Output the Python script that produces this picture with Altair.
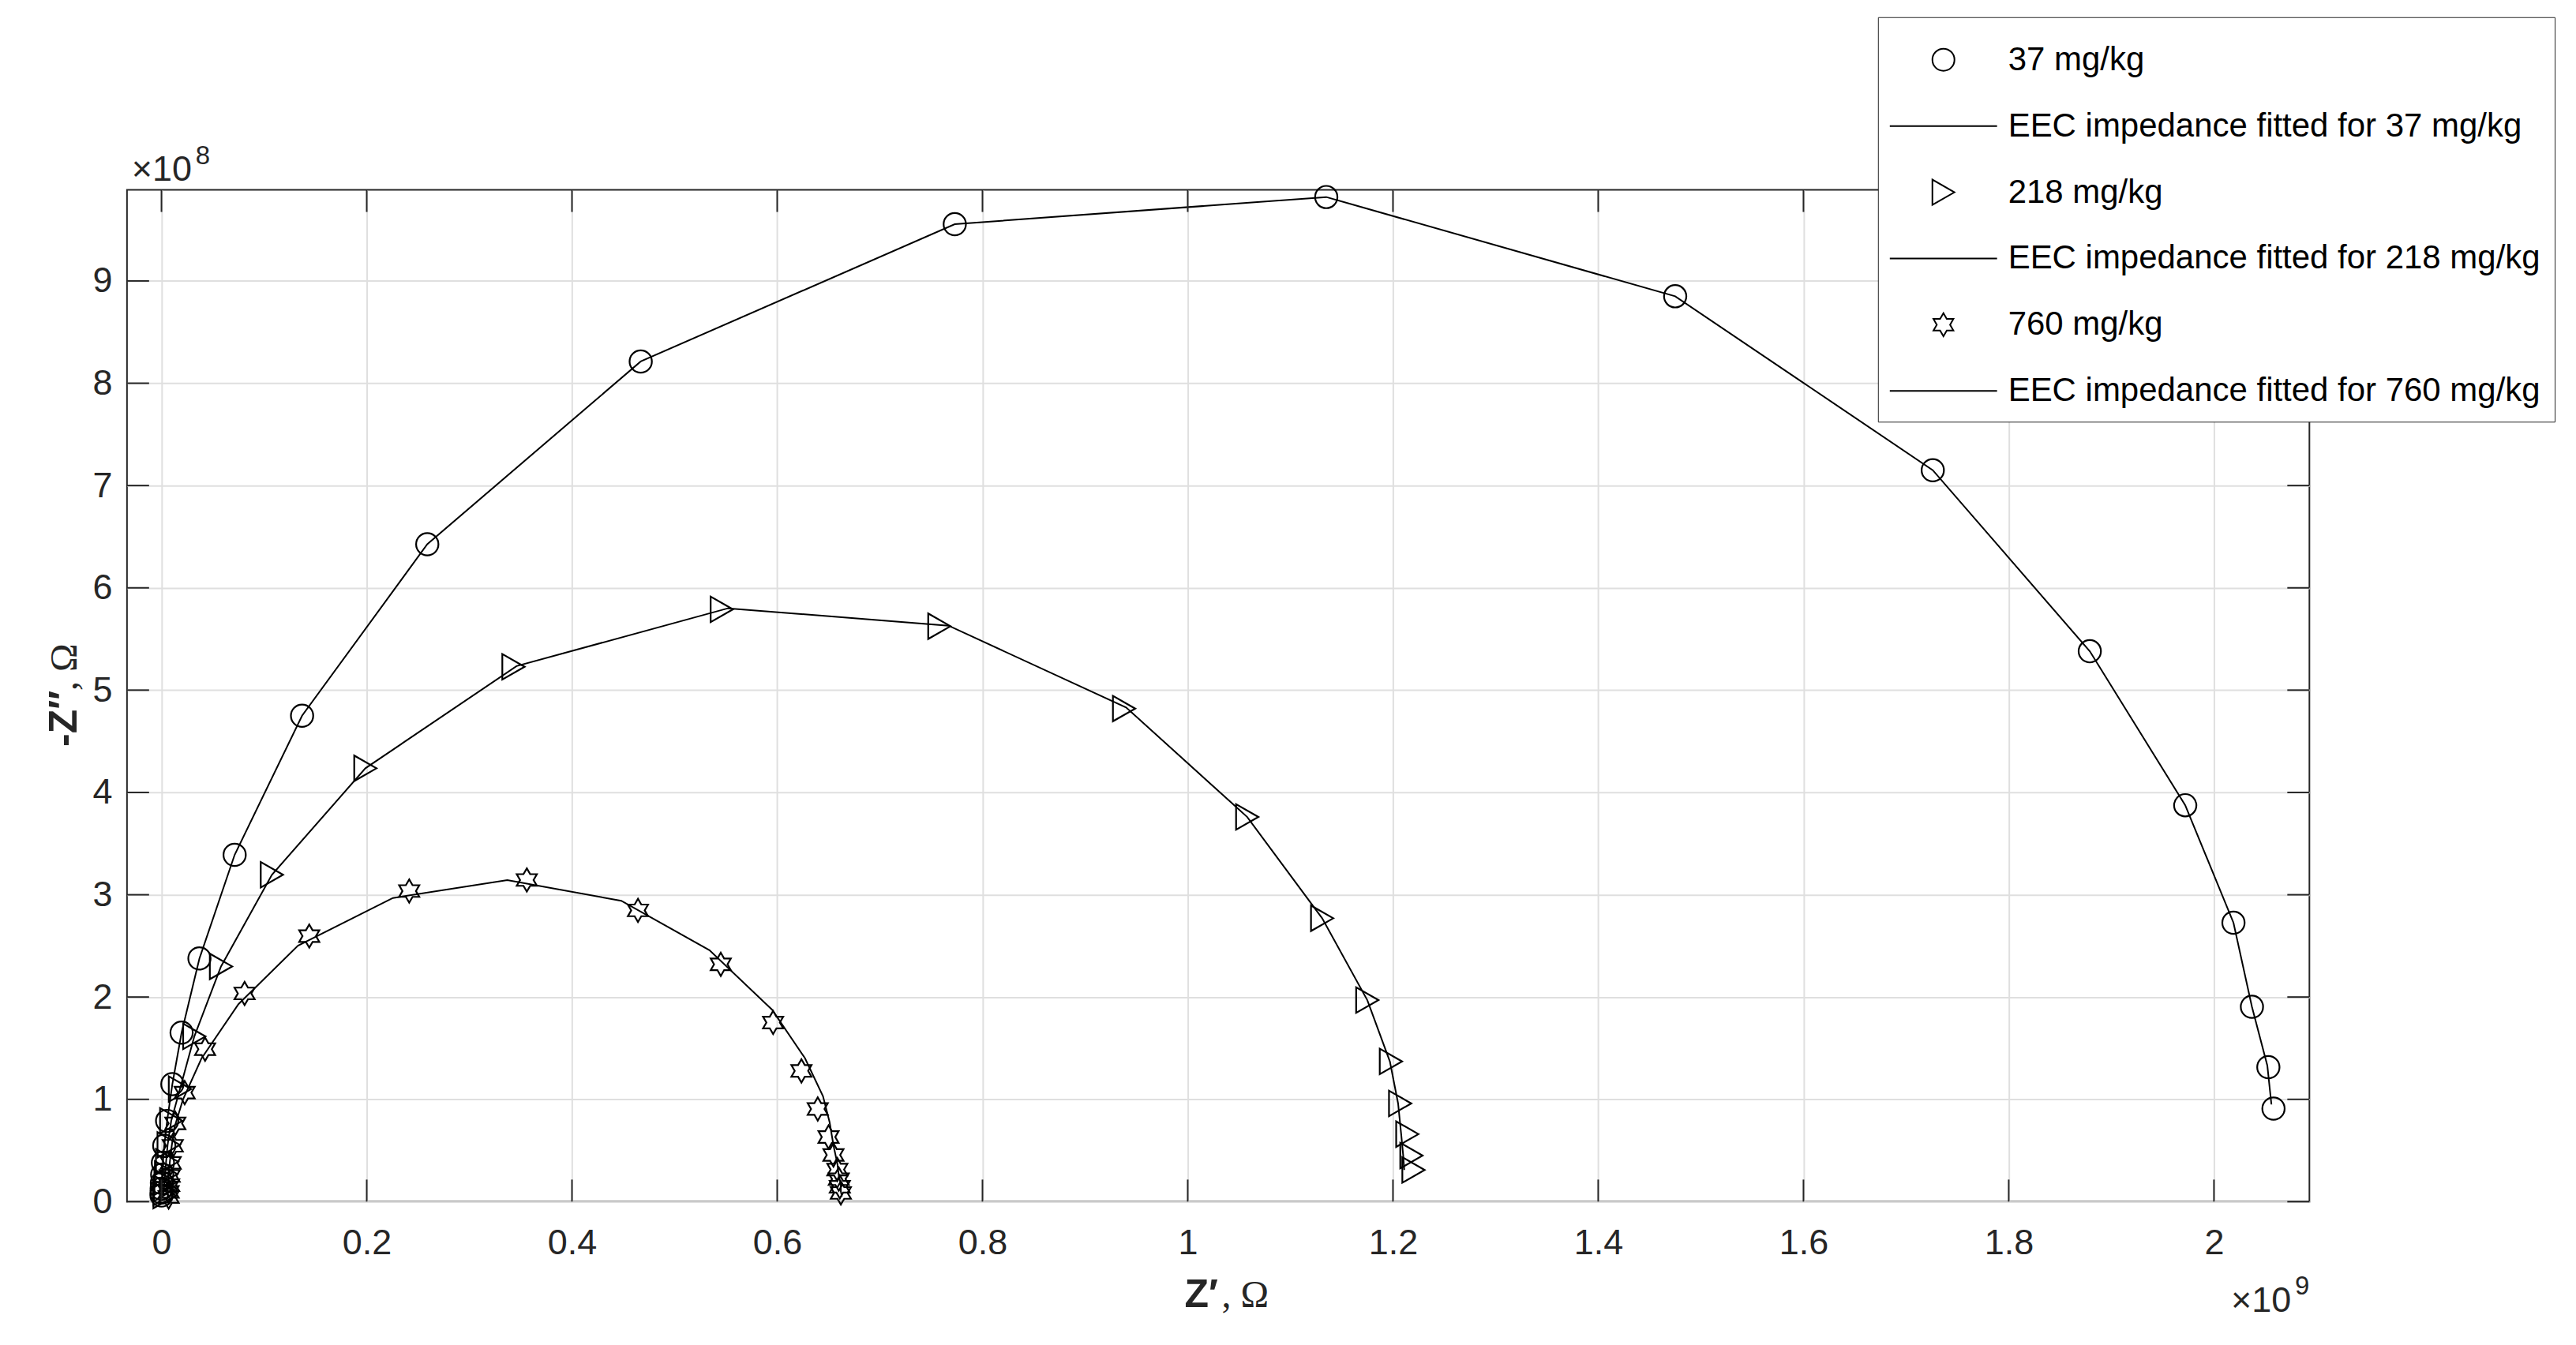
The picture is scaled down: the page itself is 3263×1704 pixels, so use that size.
import altair as alt
import pandas as pd

# ---------------- data (Z' in units of 1e9 Ohm, -Z'' in units of 1e8 Ohm) ----------------
label_37 = "37 mg/kg"
label_218 = "218 mg/kg"
label_760 = "760 mg/kg"
fit_label_37 = "EEC impedance fitted for 37 mg/kg"
fit_label_218 = "EEC impedance fitted for 218 mg/kg"
fit_label_760 = "EEC impedance fitted for 760 mg/kg"

# measured points, 37 mg/kg (circles)
zre_37 = [2.058, 2.053, 2.037, 2.019, 1.972, 1.879, 1.726, 1.475, 1.135, 0.773, 0.467, 0.259,
          0.137, 0.0713, 0.037, 0.0196, 0.0106, 0.0055, 0.0027, 0.0014, 0.0007, 0.0004, 0.0002,
          0.0001, 0.00005]
zim_37 = [0.909, 1.314, 1.905, 2.727, 3.875, 5.38, 7.15, 8.85, 9.82, 9.555, 8.213, 6.426,
          4.75, 3.39, 2.377, 1.652, 1.148, 0.789, 0.547, 0.38, 0.263, 0.182, 0.126,
          0.087, 0.06]

# measured points, 218 mg/kg (triangles)
zre_218 = [1.220, 1.218, 1.214, 1.207, 1.198, 1.175, 1.131, 1.058, 0.938, 0.758, 0.546, 0.343,
           0.1987, 0.1076, 0.058, 0.032, 0.018, 0.0095, 0.007, 0.0055, 0.0045, 0.004, 0.0035,
           0.003, 0.003]
zim_218 = [0.31, 0.45, 0.66, 0.96, 1.37, 1.97, 2.77, 3.76, 4.82, 5.625, 5.79, 5.228,
           4.236, 3.195, 2.299, 1.615, 1.10, 0.79, 0.555, 0.39, 0.27, 0.19, 0.13,
           0.09, 0.06]

# measured points, 760 mg/kg (hexagrams)
zre_760 = [0.662, 0.661, 0.660, 0.6586, 0.6548, 0.650, 0.6395, 0.6236, 0.596, 0.545, 0.4643,
           0.356, 0.2414, 0.144, 0.081, 0.0425, 0.0226, 0.0135, 0.011, 0.009, 0.008, 0.0075,
           0.007, 0.007]
zim_760 = [0.085, 0.145, 0.22, 0.314, 0.456, 0.632, 0.906, 1.278, 1.751, 2.32, 2.847,
           3.144, 3.036, 2.596, 2.035, 1.49, 1.066, 0.765, 0.546, 0.379, 0.251, 0.161,
           0.095, 0.045]

# fitted EEC curves
fit_zre_37 = [2.056, 2.052, 2.037, 2.019, 1.972, 1.879, 1.726, 1.475, 1.135, 0.773, 0.467, 0.259,
              0.137, 0.0713, 0.037, 0.0196, 0.0106, 0.0055, 0.0027, 0.0014, 0.0007, 0.0004,
              0.0002, 0.0001, 0.00005]
fit_zim_37 = [0.95, 1.33, 1.905, 2.727, 3.875, 5.38, 7.15, 8.85, 9.82, 9.555, 8.213, 6.426,
              4.75, 3.39, 2.377, 1.652, 1.148, 0.789, 0.547, 0.38, 0.263, 0.182,
              0.126, 0.087, 0.06]

fit_zre_218 = [1.211, 1.210, 1.208, 1.205, 1.197, 1.175, 1.131, 1.058, 0.94, 0.767, 0.552, 0.346,
               0.1987, 0.1076, 0.058, 0.032, 0.018, 0.0095, 0.006, 0.0045, 0.0035, 0.003,
               0.0025, 0.002, 0.002]
fit_zim_218 = [0.31, 0.45, 0.66, 0.96, 1.37, 1.97, 2.77, 3.76, 4.83, 5.63, 5.80, 5.235,
               4.236, 3.195, 2.299, 1.615, 1.10, 0.79, 0.555, 0.39, 0.27, 0.19,
               0.13, 0.09, 0.06]

fit_zre_760 = [0.663, 0.662, 0.662, 0.660, 0.6586, 0.655, 0.651, 0.6446, 0.627, 0.595, 0.534,
               0.448, 0.337, 0.2255, 0.133, 0.075, 0.039, 0.021, 0.0125, 0.0095, 0.0078,
               0.007, 0.0065, 0.006, 0.006]
fit_zim_760 = [0.05, 0.10, 0.169, 0.254, 0.372, 0.541, 0.778, 1.031, 1.403, 1.876, 2.458,
               2.941, 3.144, 2.968, 2.502, 1.93, 1.40, 1.0, 0.72, 0.51, 0.355,
               0.235, 0.15, 0.09, 0.04]

x_ticks = [0, 0.2, 0.4, 0.6, 0.8, 1, 1.2, 1.4, 1.6, 1.8, 2]
y_ticks = [0, 1, 2, 3, 4, 5, 6, 7, 8, 9]
x_domain = [-0.0336, 2.093]
y_domain = [0, 9.89]
x_exponent = "9"
y_exponent = "8"
x_title_parts = ["Z\u2032", ", \u03a9"]
y_title_parts = ["-Z\u2032\u2032", ", \u03a9"]

# ---------------- layout constants ----------------
W, H = 2767, 1283
TICK = 28
DARK = "#262626"
FONT = "Liberation Sans"
SERIF = "Liberation Serif"

def frame(xs, ys, label):
    return pd.DataFrame({"x": xs, "y": ys, "label": label, "i": range(len(xs))})

points = pd.concat([
    frame(zre_37, zim_37, label_37),
    frame(zre_218, zim_218, label_218),
    frame(zre_760, zim_760, label_760),
], ignore_index=True)

fits = pd.concat([
    frame(fit_zre_37, fit_zim_37, fit_label_37),
    frame(fit_zre_218, fit_zim_218, fit_label_218),
    frame(fit_zre_760, fit_zim_760, fit_label_760),
], ignore_index=True)

legend_order = [label_37, fit_label_37, label_218, fit_label_218, label_760, fit_label_760]
LINE = "M-4.857,0H4.857"
TRI = "M1,0L-1,-1.143L-1,1.143Z"
STAR = ("M0,-1.043L0.301,-0.5215L0.903,-0.5215L0.602,0L0.903,0.5215L0.301,0.5215"
        "L0,1.043L-0.301,0.5215L-0.903,0.5215L-0.602,0L-0.903,-0.5215L-0.301,-0.5215Z")
shape_range = ["circle", LINE, TRI, LINE, STAR, LINE]

xscale = alt.Scale(domain=x_domain, nice=False, zero=False)
yscale = alt.Scale(domain=y_domain, nice=False, zero=False)

x_axis = alt.Axis(values=x_ticks, format="~g", domain=False, ticks=False, tickSize=0,
                  grid=True, gridColor="#dfdfdf", gridWidth=2,
                  labelFont=FONT, labelFontSize=45, labelColor=DARK, labelPadding=30,
                  labelFlush=False, labelOverlap=False, title=None)
y_axis = alt.Axis(values=y_ticks, format="d", domain=False, ticks=False, tickSize=0,
                  grid=True, gridColor="#dfdfdf", gridWidth=2,
                  labelFont=FONT, labelFontSize=45, labelColor=DARK, labelPadding=19,
                  labelFlush=False, labelOverlap=False, title=None)

legend = alt.Legend(orient="none", legendX=2220, legendY=-219,
                    title=" ", titleFontSize=1, titlePadding=14,
                    padding=18, rowPadding=42, symbolOffset=44, labelOffset=61,
                    labelFont=FONT, labelFontSize=42, labelColor="black", labelLimit=2000,
                    symbolSize=784, symbolStrokeWidth=2, symbolStrokeColor="black",
                    symbolFillColor="transparent",
                    strokeColor=DARK, fillColor="white")

lines = alt.Chart(fits).mark_line(color="black", strokeWidth=2).encode(
    x=alt.X("x:Q", scale=xscale, axis=x_axis),
    y=alt.Y("y:Q", scale=yscale, axis=y_axis),
    detail="label:N",
    order="i:Q",
)

marks = alt.Chart(points).mark_point(filled=False, size=800, strokeWidth=2.2, color="black",
                                     opacity=1).encode(
    x=alt.X("x:Q", scale=xscale, axis=x_axis),
    y=alt.Y("y:Q", scale=yscale, axis=y_axis),
    shape=alt.Shape("label:N", scale=alt.Scale(domain=legend_order, range=shape_range),
                    legend=legend),
)

xt = pd.DataFrame({"x": x_ticks})
yt = pd.DataFrame({"y": y_ticks})
rule_style = dict(color=DARK, strokeWidth=2)
tick_bottom = alt.Chart(xt).mark_rule(**rule_style).encode(
    x=alt.X("x:Q", scale=xscale, axis=x_axis), y=alt.value(H), y2=alt.value(H - TICK))
tick_top = alt.Chart(xt).mark_rule(**rule_style).encode(
    x=alt.X("x:Q", scale=xscale, axis=x_axis), y=alt.value(0), y2=alt.value(TICK))
tick_left = alt.Chart(yt).mark_rule(**rule_style).encode(
    y=alt.Y("y:Q", scale=yscale, axis=y_axis), x=alt.value(0), x2=alt.value(TICK))
tick_right = alt.Chart(yt).mark_rule(**rule_style).encode(
    y=alt.Y("y:Q", scale=yscale, axis=y_axis), x=alt.value(W - TICK), x2=alt.value(W))


def text_layer(s, x, y, **kw):
    return alt.Chart(pd.DataFrame({"t": [s]})).mark_text(
        color=DARK, baseline="alphabetic", **kw).encode(
        x=alt.value(x), y=alt.value(y), text="t:N")


# exponent annotations
y_mult = text_layer("\u00d710", 6, -12, align="left", font=FONT, fontSize=45)
y_exp = text_layer(y_exponent, 87, -33, align="left", font=FONT, fontSize=33)
x_mult = text_layer("\u00d710", W - 23, 1423, align="right", font=FONT, fontSize=45)
x_exp = text_layer(x_exponent, W, 1401, align="right", font=FONT, fontSize=33)

# axis titles (bold sans symbol + serif unit)
x_t1 = text_layer(x_title_parts[0], 1341, 1417, align="left", font=FONT, fontSize=50,
                  fontWeight="bold")
x_t2 = text_layer(x_title_parts[1], 1388, 1417, align="left", font=SERIF, fontSize=48)
y_t1 = text_layer(y_title_parts[0], -64, 706, align="left", angle=270, font=FONT,
                  fontSize=50, fontWeight="bold")
y_t2 = text_layer(y_title_parts[1], -64, 635, align="left", angle=270, font=SERIF,
                  fontSize=48)

chart = alt.layer(
    lines, marks, tick_bottom, tick_top, tick_left, tick_right,
    y_mult, y_exp, x_mult, x_exp, x_t1, x_t2, y_t1, y_t2
).properties(
    width=W, height=H,
    autosize=alt.AutoSizeParams(type="none"),
    padding={"left": 153, "top": 232, "right": 330, "bottom": 170},
    background="white",
).configure_view(stroke=DARK, strokeWidth=2)

chart.save("out.html", embed_options={"renderer": "svg", "actions": False})
